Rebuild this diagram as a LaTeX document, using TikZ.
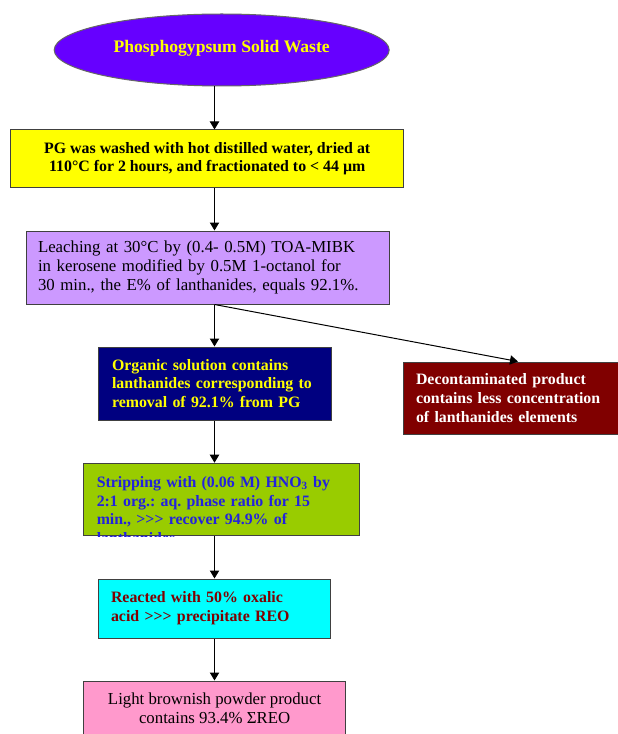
\documentclass[tikz,border=0pt]{standalone}
\usepackage{fontspec}
\setmainfont{Liberation Serif}
\usetikzlibrary{shapes.geometric,arrows.meta}
\definecolor{psviolet}{HTML}{6600FF}
\definecolor{pgyellow}{HTML}{FFFF00}
\definecolor{leachlilac}{HTML}{CC99FF}
\definecolor{orgnavy}{HTML}{000080}
\definecolor{deconmaroon}{HTML}{800000}
\definecolor{stripgreen}{HTML}{99CC00}
\definecolor{stripblue}{HTML}{2222DD}
\definecolor{reactcyan}{HTML}{00FFFF}
\definecolor{powderpink}{HTML}{FF99CC}
\frenchspacing
\begin{document}
\begin{tikzpicture}[x=0.75pt,y=0.75pt,yscale=-1,xscale=1,
  stepbox/.style={rectangle, draw=black!75, line width=0.75pt, inner ysep=0pt, font=\fontsize{12.6}{14}\selectfont},
  boldtext/.style={font=\fontsize{11.9}{14}\selectfont\bfseries},
  flowarrow/.style={draw=black, line width=0.75pt, -{Triangle[length=6pt,width=7pt]}}]
\useasboundingbox (0,0) rectangle (617,734);

\draw (221.7,50) node [ellipse, draw=black!60, line width=0.75pt, fill=psviolet, text=pgyellow, minimum width=251.25pt, minimum height=54pt, inner sep=0pt, font=\fontsize{13.2}{14}\selectfont\bfseries] (ps) {\raisebox{6pt}{Phosphogypsum Solid Waste}};

\draw (207.25,158.85) node [stepbox, fill=pgyellow, minimum width=294.4pt, minimum height=43.3pt, align=center, boldtext] (pg) {PG was washed with hot distilled water, dried at\\110°C for 2 hours, and fractionated to < 44 µm};

\draw (207.5,267.5) node [stepbox, fill=leachlilac, minimum width=272.25pt, minimum height=54.75pt, inner xsep=9pt, text width=254.25pt, align=left] (leach) {Leaching at 30°C by (0.4- 0.5M) TOA-MIBK\\in kerosene modified by 0.5M 1-octanol for\\30 min., the E\% of lanthanides, equals 92.1\%.};

\draw (214.5,383.5) node [stepbox, fill=orgnavy, text=pgyellow, minimum width=174.75pt, minimum height=54.75pt, inner xsep=10.5pt, text width=153.75pt, align=left, boldtext] (org) {Organic solution contains\\lanthanides corresponding to\\removal of 92.1\% from PG};

\draw (514,398) node [stepbox, fill=deconmaroon, text=white, minimum width=166.5pt, minimum height=54pt, inner xsep=9.75pt, text width=147pt, align=left, boldtext] (decon) {Decontaminated product\\contains less concentration\\of lanthanides elements};

\draw (221.5,499.5) node [stepbox, fill=stripgreen, minimum width=207pt, minimum height=54.4pt] (strip) {};
\begin{scope}
\clip (strip.south west) rectangle (strip.north east);
\draw (strip.north west) ++(13.5,13.5) node [anchor=north west, inner sep=0pt, text=stripblue, text width=185pt, align=left, boldtext] (striptext) {Stripping with (0.06 M) HNO\textsubscript{3} by\\2:1 org.: aq. phase ratio for 15\\min., >{}>{}> recover 94.9\% of\\lanthanides.};
\end{scope}

\draw (214.5,608.5) node [stepbox, fill=reactcyan, text=deconmaroon, minimum width=174.2pt, minimum height=44.25pt, inner xsep=9.5pt, text width=155.2pt, align=left, boldtext] (react) {Reacted with 50\% oxalic\\acid >{}>{}> precipitate REO};

\draw (214.6,708) node [stepbox, fill=powderpink, minimum width=196.65pt, minimum height=40.5pt, align=center] (powder) {Light brownish powder product\\contains 93.4\% ΣREO};

% connectors
\coordinate (ax) at (214.5,0);
\coordinate (dx) at (518,0);
\draw[flowarrow] (ps.south -| ax) -- (pg.north -| ax);
\draw[flowarrow] (pg.south -| ax) -- (leach.north -| ax);
\draw[flowarrow] (leach.south -| ax) -- (org.north -| ax);
\draw[flowarrow] (leach.south -| ax) -- (decon.north -| dx);
\draw[flowarrow] (org.south -| ax) -- (strip.north -| ax);
\draw[flowarrow] (strip.south -| ax) -- (react.north -| ax);
\draw[flowarrow] (react.south -| ax) -- (powder.north -| ax);
\end{tikzpicture}
\end{document}
